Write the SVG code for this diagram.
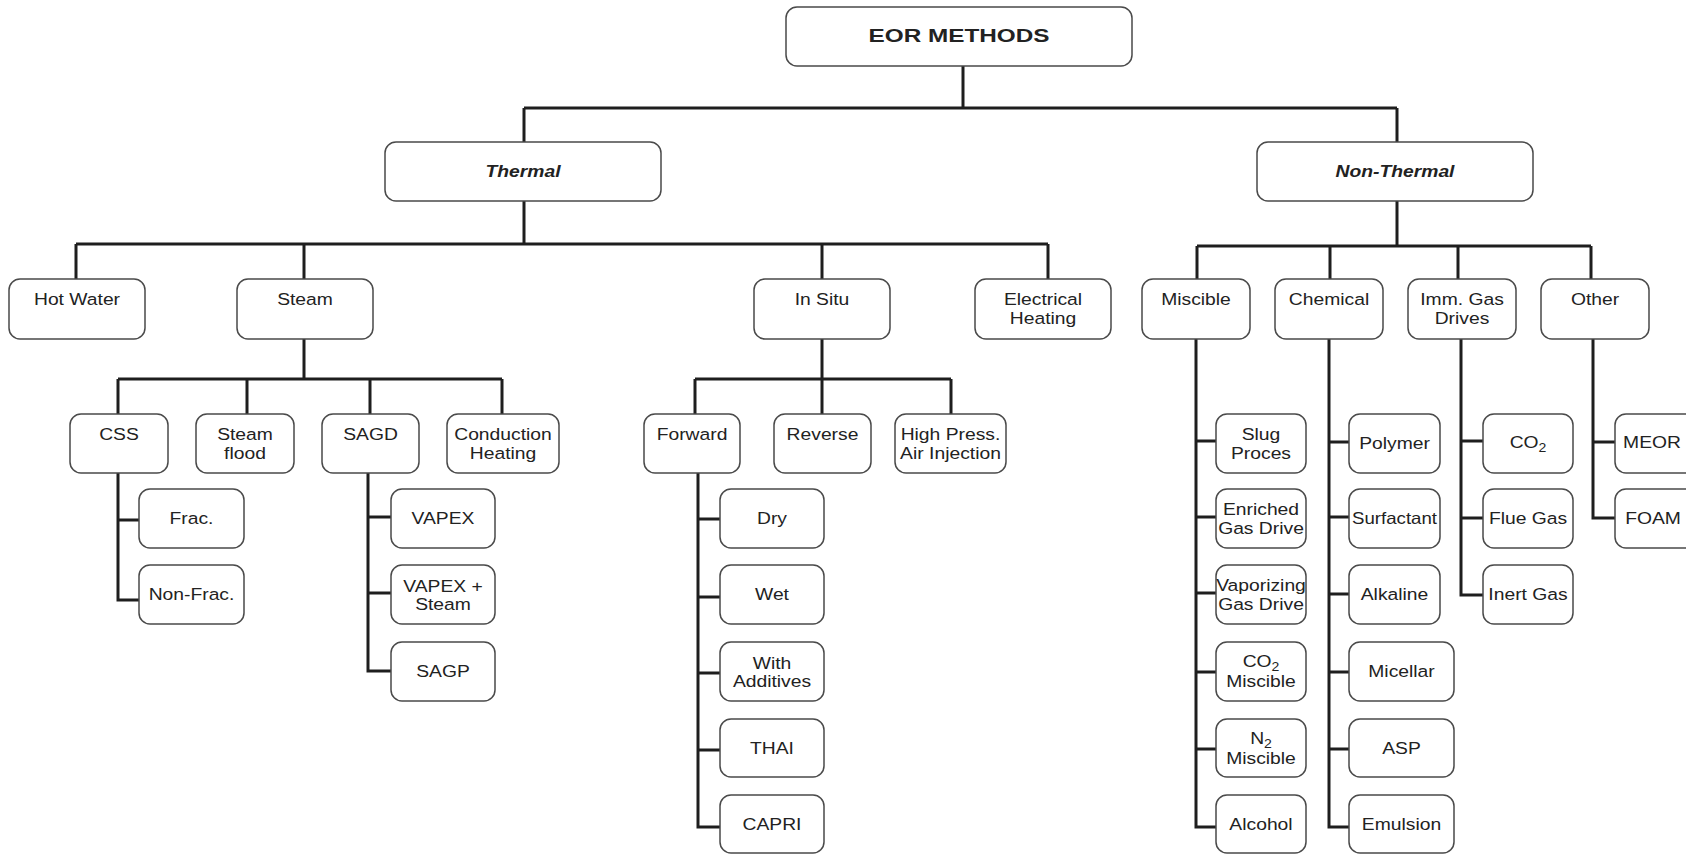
<svg xmlns="http://www.w3.org/2000/svg" width="1686" height="859" viewBox="0 0 1686 859">
<style>
.box{fill:#fff;stroke:#4a4a4a;stroke-width:1.5}
.t{font-family:"Liberation Sans",Arial,sans-serif;font-size:16.5px;fill:#222;text-anchor:middle}
.b{font-weight:bold}
.i{font-style:italic;font-weight:bold}
.sub{font-size:12px}
.conn{stroke:#1e1e1e;stroke-width:3;fill:none;stroke-linejoin:miter}
</style>
<rect width="1686" height="859" fill="#fff"/>
<g id="connectors" class="conn">
<path d="M963 66V108M524 108H1397M524 108V142M1397 108V142"/>
<path d="M524 201V244M76 244H1048M76 244V279M304 244V279M822 244V279M1048 244V279"/>
<path d="M1397 201V246M1197 246H1591M1197 246V279M1330 246V279M1458 246V279M1591 246V279"/>
<path d="M304 339V379M118 379H502M118 379V414M247 379V414M370 379V414M502 379V414"/>
<path d="M822 339V379M695 379H951M695 379V414M822 379V414M951 379V414"/>
<path d="M118 473V600H139M118 520H139"/>
<path d="M368 473V671H391M368 517H391M368 593H391"/>
<path d="M698 473V827H720M698 519H720M698 597H720M698 673H720M698 750H720"/>
<path d="M1196 339V827H1216M1196 441H1216M1196 517H1216M1196 593H1216M1196 672H1216M1196 749H1216"/>
<path d="M1329 339V827H1349M1329 442H1349M1329 517H1349M1329 594H1349M1329 672H1349M1329 749H1349"/>
<path d="M1461 339V595H1483M1461 441H1483M1461 518H1483"/>
<path d="M1593 339V518H1615M1593 442H1615"/>
</g>
<g id="eor"><rect class="box" x="786" y="7" width="346" height="59" rx="11"/><text class="t b" style="font-size:19px" transform="translate(959 42) scale(1.28 1)">EOR METHODS</text></g>
<g id="thermal"><rect class="box" x="385" y="142" width="276" height="59" rx="11"/><text class="t i" transform="translate(523 177) scale(1.17 1)">Thermal</text></g>
<g id="nonthermal"><rect class="box" x="1257" y="142" width="276" height="59" rx="11"/><text class="t i" transform="translate(1395 177) scale(1.17 1)">Non-Thermal</text></g>

<g id="hotwater"><rect class="box" x="9" y="279" width="136" height="60" rx="11"/><text class="t" transform="translate(77 305) scale(1.17 1)">Hot Water</text></g>
<g id="steam"><rect class="box" x="237" y="279" width="136" height="60" rx="11"/><text class="t" transform="translate(305 305) scale(1.17 1)">Steam</text></g>
<g id="insitu"><rect class="box" x="754" y="279" width="136" height="60" rx="11"/><text class="t" transform="translate(822 305) scale(1.17 1)">In Situ</text></g>
<g id="electrical"><rect class="box" x="975" y="279" width="136" height="60" rx="11"/><text class="t" transform="translate(1043 305) scale(1.17 1)"><tspan x="0" y="0">Electrical</tspan><tspan x="0" y="19">Heating</tspan></text></g>
<g id="miscible"><rect class="box" x="1142" y="279" width="108" height="60" rx="11"/><text class="t" transform="translate(1196 305) scale(1.17 1)">Miscible</text></g>
<g id="chemical"><rect class="box" x="1275" y="279" width="108" height="60" rx="11"/><text class="t" transform="translate(1329 305) scale(1.17 1)">Chemical</text></g>
<g id="immgas"><rect class="box" x="1408" y="279" width="108" height="60" rx="11"/><text class="t" transform="translate(1462 305) scale(1.17 1)"><tspan x="0" y="0">Imm. Gas</tspan><tspan x="0" y="19">Drives</tspan></text></g>
<g id="other"><rect class="box" x="1541" y="279" width="108" height="60" rx="11"/><text class="t" transform="translate(1595 305) scale(1.17 1)">Other</text></g>

<g id="css"><rect class="box" x="70" y="414" width="98" height="59" rx="11"/><text class="t" transform="translate(119 440) scale(1.17 1)">CSS</text></g>
<g id="steamflood"><rect class="box" x="196" y="414" width="98" height="59" rx="11"/><text class="t" transform="translate(245 440) scale(1.17 1)"><tspan x="0" y="0">Steam</tspan><tspan x="0" y="19">flood</tspan></text></g>
<g id="sagd"><rect class="box" x="322" y="414" width="97" height="59" rx="11"/><text class="t" transform="translate(370.5 440) scale(1.17 1)">SAGD</text></g>
<g id="conduction"><rect class="box" x="447" y="414" width="112" height="59" rx="11"/><text class="t" transform="translate(503 440) scale(1.17 1)"><tspan x="0" y="0">Conduction</tspan><tspan x="0" y="19">Heating</tspan></text></g>
<g id="forward"><rect class="box" x="644" y="414" width="96" height="59" rx="11"/><text class="t" transform="translate(692 440) scale(1.17 1)">Forward</text></g>
<g id="reverse"><rect class="box" x="774" y="414" width="97" height="59" rx="11"/><text class="t" transform="translate(822.5 440) scale(1.17 1)">Reverse</text></g>
<g id="hpai"><rect class="box" x="895" y="414" width="111" height="59" rx="11"/><text class="t" transform="translate(950.5 440) scale(1.17 1)"><tspan x="0" y="0">High Press.</tspan><tspan x="0" y="19">Air Injection</tspan></text></g>

<g id="frac"><rect class="box" x="139" y="489" width="105" height="59" rx="11"/><text class="t" transform="translate(191.5 524) scale(1.17 1)">Frac.</text></g>
<g id="nonfrac"><rect class="box" x="139" y="565" width="105" height="59" rx="11"/><text class="t" transform="translate(191.5 600) scale(1.17 1)">Non-Frac.</text></g>

<g id="vapex"><rect class="box" x="391" y="489" width="104" height="59" rx="11"/><text class="t" transform="translate(443 524) scale(1.17 1)">VAPEX</text></g>
<g id="vapexsteam"><rect class="box" x="391" y="565" width="104" height="59" rx="11"/><text class="t" transform="translate(443 592) scale(1.17 1)"><tspan x="0" y="0">VAPEX +</tspan><tspan x="0" y="18.5">Steam</tspan></text></g>
<g id="sagp"><rect class="box" x="391" y="642" width="104" height="59" rx="11"/><text class="t" transform="translate(443 677) scale(1.17 1)">SAGP</text></g>

<g id="dry"><rect class="box" x="720" y="489" width="104" height="59" rx="11"/><text class="t" transform="translate(772 524) scale(1.17 1)">Dry</text></g>
<g id="wet"><rect class="box" x="720" y="565" width="104" height="59" rx="11"/><text class="t" transform="translate(772 600) scale(1.17 1)">Wet</text></g>
<g id="additives"><rect class="box" x="720" y="642" width="104" height="59" rx="11"/><text class="t" transform="translate(772 669) scale(1.17 1)"><tspan x="0" y="0">With</tspan><tspan x="0" y="18.5">Additives</tspan></text></g>
<g id="thai"><rect class="box" x="720" y="719" width="104" height="58" rx="11"/><text class="t" transform="translate(772 754) scale(1.17 1)">THAI</text></g>
<g id="capri"><rect class="box" x="720" y="795" width="104" height="58" rx="11"/><text class="t" transform="translate(772 830) scale(1.17 1)">CAPRI</text></g>

<g id="slug"><rect class="box" x="1216" y="414" width="90" height="59" rx="11"/><text class="t" transform="translate(1261 440) scale(1.17 1)"><tspan x="0" y="0">Slug</tspan><tspan x="0" y="19">Proces</tspan></text></g>
<g id="enriched"><rect class="box" x="1216" y="489" width="90" height="59" rx="11"/><text class="t" transform="translate(1261 515) scale(1.17 1)"><tspan x="0" y="0">Enriched</tspan><tspan x="0" y="19">Gas Drive</tspan></text></g>
<g id="vaporizing"><rect class="box" x="1216" y="565" width="90" height="59" rx="11"/><text class="t" transform="translate(1261 591) scale(1.17 1)"><tspan x="0" y="0">Vaporizing</tspan><tspan x="0" y="19">Gas Drive</tspan></text></g>
<g id="co2miscible"><rect class="box" x="1216" y="642" width="90" height="59" rx="11"/><text class="t" transform="translate(1261 667) scale(1.17 1)"><tspan x="0" y="0">CO</tspan><tspan class="sub" dy="4">2</tspan><tspan x="0" y="20">Miscible</tspan></text></g>
<g id="n2miscible"><rect class="box" x="1216" y="719" width="90" height="58" rx="11"/><text class="t" transform="translate(1261 744) scale(1.17 1)"><tspan x="0" y="0">N</tspan><tspan class="sub" dy="4">2</tspan><tspan x="0" y="20">Miscible</tspan></text></g>
<g id="alcohol"><rect class="box" x="1216" y="795" width="90" height="58" rx="11"/><text class="t" transform="translate(1261 830) scale(1.17 1)">Alcohol</text></g>

<g id="polymer"><rect class="box" x="1349" y="414" width="91" height="59" rx="11"/><text class="t" transform="translate(1394.5 449) scale(1.17 1)">Polymer</text></g>
<g id="surfactant"><rect class="box" x="1349" y="489" width="91" height="59" rx="11"/><text class="t" transform="translate(1394.5 524) scale(1.13 1)">Surfactant</text></g>
<g id="alkaline"><rect class="box" x="1349" y="565" width="91" height="59" rx="11"/><text class="t" transform="translate(1394.5 600) scale(1.17 1)">Alkaline</text></g>
<g id="micellar"><rect class="box" x="1349" y="642" width="105" height="59" rx="11"/><text class="t" transform="translate(1401.5 677) scale(1.17 1)">Micellar</text></g>
<g id="asp"><rect class="box" x="1349" y="719" width="105" height="58" rx="11"/><text class="t" transform="translate(1401.5 754) scale(1.17 1)">ASP</text></g>
<g id="emulsion"><rect class="box" x="1349" y="795" width="105" height="58" rx="11"/><text class="t" transform="translate(1401.5 830) scale(1.17 1)">Emulsion</text></g>

<g id="co2"><rect class="box" x="1483" y="414" width="90" height="59" rx="11"/><text class="t" transform="translate(1528 448) scale(1.17 1)"><tspan>CO</tspan><tspan class="sub" dy="4">2</tspan></text></g>
<g id="fluegas"><rect class="box" x="1483" y="489" width="90" height="59" rx="11"/><text class="t" transform="translate(1528 524) scale(1.17 1)">Flue Gas</text></g>
<g id="inertgas"><rect class="box" x="1483" y="565" width="90" height="59" rx="11"/><text class="t" transform="translate(1528 600) scale(1.17 1)">Inert Gas</text></g>

<g id="meor"><rect class="box" x="1615" y="414" width="90" height="59" rx="11"/><text class="t" transform="translate(1652 448) scale(1.17 1)">MEOR</text></g>
<g id="foam"><rect class="box" x="1615" y="489" width="90" height="59" rx="11"/><text class="t" transform="translate(1653 524) scale(1.17 1)">FOAM</text></g>
</svg>
